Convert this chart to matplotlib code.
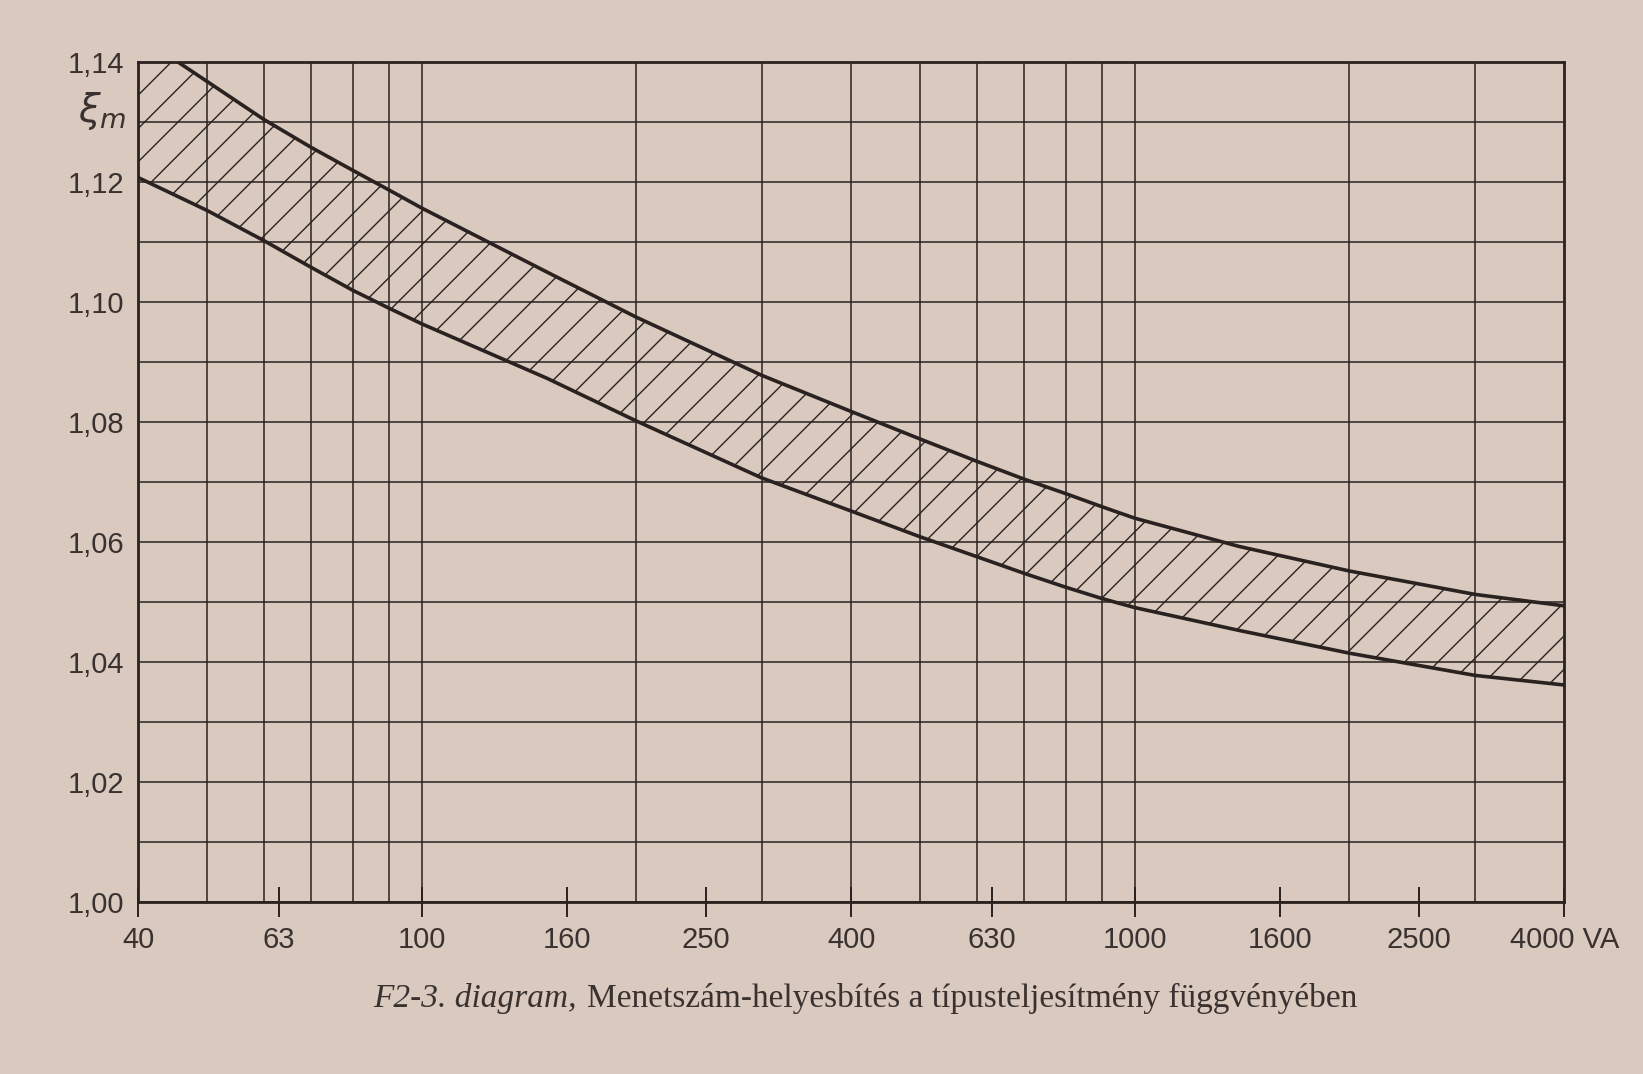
import numpy as np
import matplotlib
matplotlib.use('Agg')
import matplotlib.pyplot as plt

paper = '#d9c9be'
ink = '#2a2220'

# curve values (VA -> xi_m)
x_curve = [40, 50, 60, 70, 80, 90, 100, 150, 200, 300, 400, 500, 600, 700, 800, 900, 1000, 1400, 2000, 3000, 4000]
y_upper = [1.1445, 1.1368, 1.1305, 1.1258, 1.1220, 1.1187, 1.1157, 1.1050, 1.0975, 1.0878, 1.0818, 1.0772, 1.0735,
           1.0705, 1.0681, 1.0659, 1.0640, 1.0593, 1.0552, 1.0513, 1.0494]
y_lower = [1.1208, 1.1153, 1.1103, 1.1058, 1.1020, 1.0990, 1.0964, 1.0873, 1.0802, 1.0707, 1.0652, 1.0609, 1.0576,
           1.0548, 1.0525, 1.0506, 1.0491, 1.0453, 1.0415, 1.0378, 1.0362]

x_ticks = [40, 63, 100, 160, 250, 400, 630, 1000, 1600, 2500, 4000]
x_labels = ['40', '63', '100', '160', '250', '400', '630', '1000', '1600', '2500', '4000 VA']
x_grid = [50, 60, 70, 80, 90, 100, 200, 300, 400, 500, 600, 700, 800, 900, 1000, 2000, 3000]
y_ticks = [1.00, 1.02, 1.04, 1.06, 1.08, 1.10, 1.12, 1.14]
y_labels = ['1,00', '1,02', '1,04', '1,06', '1,08', '1,10', '1,12', '1,14']
y_grid = [1.01, 1.03, 1.05, 1.07, 1.09, 1.11, 1.13]

plt.rcParams['hatch.linewidth'] = 1.0
tick_font = ['Liberation Sans', 'DejaVu Sans']
txt = '#3a3230'

fig = plt.figure(figsize=(16.43, 10.74), dpi=100, facecolor=paper)
ax = fig.add_axes([0.084, 0.160, 0.868, 0.782], facecolor=paper)

ax.fill_between(x_curve, y_lower, y_upper, facecolor='none', edgecolor=ink, hatch='/', linewidth=0)
ax.plot(x_curve, y_upper, color=ink, lw=2.6)
ax.plot(x_curve, y_lower, color=ink, lw=2.6)

ax.set_xscale('log')
ax.set_xlim(40, 4000)
ax.set_ylim(1.00, 1.14)

ax.xaxis.remove_overlapping_locs = False
ax.set_xticks(x_ticks)
ax.set_xticklabels(x_labels)
ax.set_xticks(x_grid, minor=True)
ax.set_xticklabels([], minor=True)
ax.set_yticks(y_ticks)
ax.set_yticklabels(y_labels)
ax.set_yticks(y_grid, minor=True)

ax.grid(False, which='major', axis='x')
ax.grid(True, which='minor', axis='x', color=ink, lw=1.1)
ax.grid(True, which='both', axis='y', color=ink, lw=1.1)
ax.set_axisbelow(True)

ax.tick_params(axis='x', which='major', direction='inout', length=22, width=1.4, color=ink,
               pad=6, labelsize=21, labelcolor=txt)
ax.tick_params(axis='x', which='minor', length=0)
ax.tick_params(axis='y', which='both', length=0, pad=10, labelsize=21, labelcolor=txt)
for lab in ax.get_xticklabels() + ax.get_yticklabels():
    lab.set_family(tick_font)

for s in ax.spines.values():
    s.set_color(ink)
    s.set_linewidth(2.0)

ax.text(-0.025, 1.1318, r'$\xi_m$', transform=ax.get_yaxis_transform(), ha='center', va='center',
        fontsize=28, color=txt)

fig.text(0.351, 0.07, 'F2-3. diagram,', ha='right', va='center', fontsize=24, style='italic',
         family='Liberation Serif', color=txt)
fig.text(0.357, 0.07, 'Menetszám-helyesbítés a típusteljesítmény függvényében', ha='left', va='center',
         fontsize=24, family='Liberation Serif', color=txt)

fig.savefig('out.png', dpi=100, facecolor=paper)
